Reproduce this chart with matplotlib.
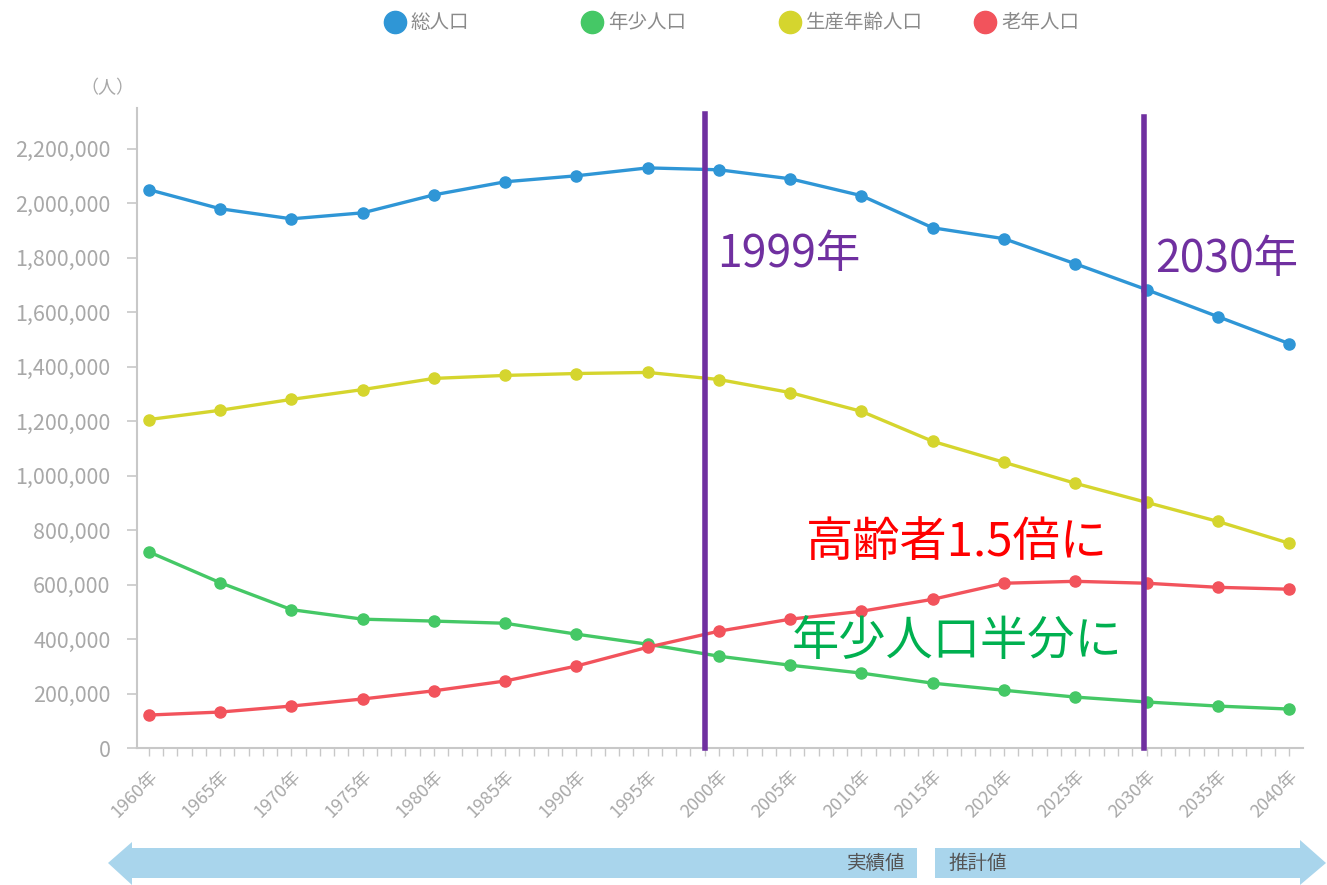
#!/usr/bin/env python3
"""Population by age group, 1960-2040 (actual + projection)."""

import matplotlib

matplotlib.use("Agg")
import matplotlib.pyplot as plt
from matplotlib.lines import Line2D
from matplotlib.patches import Polygon
from matplotlib.ticker import FuncFormatter, MultipleLocator

plt.rcParams["font.family"] = ["Noto Sans CJK JP", "DejaVu Sans"]

YEARS = [1960, 1965, 1970, 1975, 1980, 1985, 1990, 1995, 2000,
         2005, 2010, 2015, 2020, 2025, 2030, 2035, 2040]
TOTAL = [2050000, 1980000, 1943000, 1965000, 2031000, 2079000, 2101000, 2130000, 2123000,
         2090000, 2028000, 1910000, 1870000, 1778000, 1683000, 1584000, 1485000]
YOUNG = [720000, 607000, 508000, 473000, 466000, 458000, 418000, 381000, 337000,
         304000, 275000, 238000, 212000, 187000, 169000, 154000, 143000]
WORKING = [1206000, 1240000, 1280000, 1316000, 1357000, 1368000, 1375000, 1379000, 1353000,
           1305000, 1236000, 1126000, 1049000, 972000, 902000, 832000, 752000]
ELDERLY = [121000, 132000, 154000, 180000, 210000, 246000, 301000, 370000, 429000,
           473000, 502000, 546000, 605000, 612000, 605000, 590000, 583000]

SERIES = [
    ("総人口", TOTAL, "#2F96D6"),
    ("年少人口", YOUNG, "#45C866"),
    ("生産年齢人口", WORKING, "#D5D52E"),
    ("老年人口", ELDERLY, "#F2535C"),
]

MARKS = [(1999, "1999年"), (2029.8, "2030年")]
PURPLE = "#7030A0"
GRAY = "#A8A8A8"


def main() -> int:
    fig = plt.figure(figsize=(13.27, 8.85), dpi=100)
    ax = fig.add_axes([0.1032, 0.1548, 0.8787, 0.7232])

    for label, values, color in SERIES:
        ax.plot(YEARS, values, color=color, linewidth=2.4, marker="o",
                markersize=8, label=label, zorder=3)

    ax.set_xlim(1959.16, 2040.98)
    ax.set_ylim(0, 2350000)
    ax.set_xticks(YEARS)
    ax.set_xticklabels([f"{y}年" for y in YEARS], rotation=45, ha="right",
                       rotation_mode="anchor", color=GRAY, fontsize=13)
    ax.xaxis.set_minor_locator(MultipleLocator(1))
    ax.yaxis.set_major_locator(MultipleLocator(200000))
    ax.yaxis.set_major_formatter(FuncFormatter(lambda v, _: f"{int(v):,}"))
    ax.tick_params(axis="y", colors="#C8C8C8", labelcolor=GRAY, labelsize=15.5,
                   length=7, width=1.2, pad=12)
    ax.tick_params(axis="x", which="both", colors="#C8C8C8", length=6, width=1.0,
                   labelcolor=GRAY, pad=8)
    for side in ("top", "right"):
        ax.spines[side].set_visible(False)
    for side in ("left", "bottom"):
        ax.spines[side].set_color("#C8C8C8")
        ax.spines[side].set_linewidth(1.5)

    # purple markers for 1999 / 2030
    tops = [2328000, 2317000]
    for (x, text), top in zip(MARKS, tops):
        ax.plot([x, x], [0, top], color=PURPLE, linewidth=4, zorder=4, clip_on=False)
    ax.text(1999.9, 1815000, "1999年", color=PURPLE, fontsize=32, va="center", ha="left")
    ax.text(2030.6, 1795000, "2030年", color=PURPLE, fontsize=32, va="center", ha="left")
    ax.text(2016.7, 755000, "高齢者1.5倍に", color="#FF0000", fontsize=34, va="center", ha="center")
    ax.text(2016.7, 392000, "年少人口半分に", color="#00B050", fontsize=34, va="center", ha="center")

    fig.text(0.081, 0.9, "（人）", color=GRAY, fontsize=13, ha="center", va="center")

    # legend across the top
    for xpx, (label, _, color) in zip([395, 592, 790, 985], SERIES):
        fx = xpx / 1327
        fig.add_artist(Line2D([fx], [0.975], marker="o", markersize=16,
                              color=color, linestyle="none"))
        fig.text(fx + 0.012, 0.975, label, color="#8A8A8A", fontsize=14,
                 ha="left", va="center")

    # actual / projection arrows at the bottom
    W, H = 1327, 885

    def pts(coords):
        return [(x / W, 1 - y / H) for x, y in coords]

    arrow_color = "#A9D5EC"
    left = pts([(108, 863), (132, 842), (132, 848), (917, 848), (917, 878),
                (132, 878), (132, 885)])
    right = pts([(935, 848), (1300, 848), (1300, 840), (1326, 863), (1300, 885),
                 (1300, 878), (935, 878)])
    for poly in (left, right):
        fig.add_artist(Polygon(poly, closed=True, facecolor=arrow_color,
                               edgecolor="none", transform=fig.transFigure))
    fig.text(905 / W, 1 - 863 / H, "実績値", color="#555555", fontsize=14,
             ha="right", va="center")
    fig.text(948 / W, 1 - 863 / H, "推計値", color="#555555", fontsize=14,
             ha="left", va="center")

    fig.savefig("out.png", dpi=100, facecolor="white")
    plt.close(fig)
    return 0


if __name__ == "__main__":
    raise SystemExit(main())
